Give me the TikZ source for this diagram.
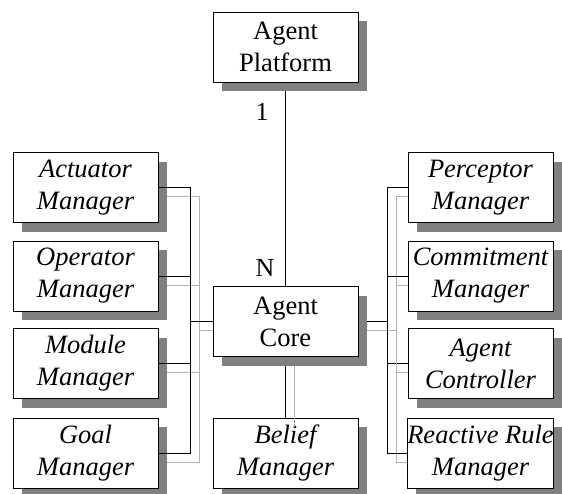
\documentclass[tikz,border=0pt]{standalone}
\usepackage{fontspec}
\setmainfont{Liberation Serif}
\usetikzlibrary{shadows}
\pgfdeclarelayer{back}
\pgfsetlayers{back,main}
\tikzset{
  box/.style={draw, fill=white, line width=0.9pt, minimum width=145pt,
    minimum height=70pt, align=center, inner sep=0pt,
    font=\fontsize{26.5}{32}\selectfont,
    drop shadow={shadow xshift=9pt, shadow yshift=-9pt, fill=black!50, opacity=1}},
  mgr/.style={box, font=\fontsize{26.5}{32}\selectfont\itshape},
  card/.style={font=\fontsize{26}{32}\selectfont, inner sep=0pt},
  wire/.style={line width=0.9pt},
  wireshadow/.style={draw=black!30, line width=0.9pt,
    transform canvas={shift={(9pt,-9pt)}}}
}

\begin{document}
\begin{tikzpicture}[x=1pt,y=-1pt]
\useasboundingbox (0,0) rectangle (562,493);

\node[box] (plat) at (285.5,47) {Agent\\Platform};
\node[box] (core) at (285.5,321.5) {Agent\\Core};
\node[mgr] (belief) at (285.5,453) {Belief\\Manager};

% managers on the left
\foreach \nm/\txt/\y in {act/Actuator/187.5,op/Operator/276,mod/Module/363.5,goal/Goal/453}
  \node[mgr] (\nm) at (85.5,\y) {\txt\\Manager};

% managers on the right
\foreach \nm/\la/\lb/\y in {perc/Perceptor/Manager/187.5,com/Commitment/Manager/276,
    ctrl/Agent/Controller/363.5,rr/Reactive Rule/Manager/453}
  \node[mgr] (\nm) at (480.5,\y) {\la\\\lb};

\coordinate (lbus) at (190,321.5);
\coordinate (rbus) at (387,321.5);

\node[card] (one) at (262,112) {1};
\node[card] (many) at (265,268) {N};

\begin{pgfonlayer}{back}
  \foreach \nm in {act,op,mod,goal}
    \draw[wireshadow] (\nm.east) -| (lbus) -- (core.west);
  \foreach \nm in {perc,com,ctrl,rr}
  {
    \draw[wireshadow] (\nm.west) -| (rbus) -- (core.east);
    \draw[wire] (\nm.west) -| (rbus) -- (core.east);
  }
  \draw[wire] (plat) -- (core);
  \draw[wire] (core) -- (belief);
\end{pgfonlayer}

\foreach \nm in {act,op,mod,goal}
  \draw[wire] (\nm.east) -| (lbus);
\draw[wire] (lbus) -- (core.west);
\draw[wireshadow] (core.south) -- (belief.north);
\end{tikzpicture}
\end{document}
